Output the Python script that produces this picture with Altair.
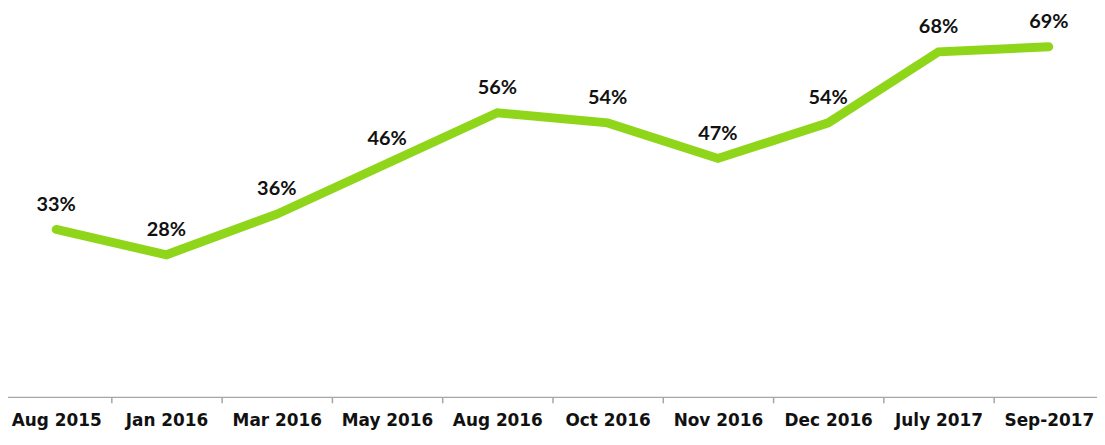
import altair as alt
import pandas as pd

categories = ["Aug 2015", "Jan 2016", "Mar 2016", "May 2016", "Aug 2016",
              "Oct 2016", "Nov 2016", "Dec 2016", "July 2017", "Sep-2017"]
values = [33, 28, 36, 46, 56, 54, 47, 54, 68, 69]
labels = [f"{v}%" for v in values]

df = pd.DataFrame({"period": categories, "value": values, "label": labels})

x = alt.X("period:N", sort=categories, title=None,
          scale=alt.Scale(paddingInner=0, paddingOuter=0),
          axis=alt.Axis(tickBand="extent", labelAngle=0,
                        labelFont="DejaVu Sans", labelFontWeight="bold",
                        labelFontSize=17, labelColor="#111111", labelPadding=10,
                        tickSize=6, tickColor="#a6a6a6", tickWidth=1.5,
                        domainColor="#a6a6a6", domainWidth=1.5, grid=False))
y = alt.Y("value:Q", title=None, scale=alt.Scale(domain=[0, 75], nice=False),
          axis=None)

base = alt.Chart(df).encode(x=x, y=y)

line = base.mark_line(color="#8fd61a", strokeWidth=9, strokeCap="round",
                      strokeJoin="miter")
text = base.mark_text(dy=-25, font="Lato", fontWeight="bold", fontSize=20,
                      color="#111111").encode(text="label:N")

chart = (line + text).properties(
    width=1110, height=383,
    autosize=alt.AutoSizeParams(type="none"),
    padding={"left": -7, "right": -7, "top": 7, "bottom": 38}
).configure_view(stroke=None)

chart.save("out.html", embed_options={"renderer": "svg", "actions": False})
